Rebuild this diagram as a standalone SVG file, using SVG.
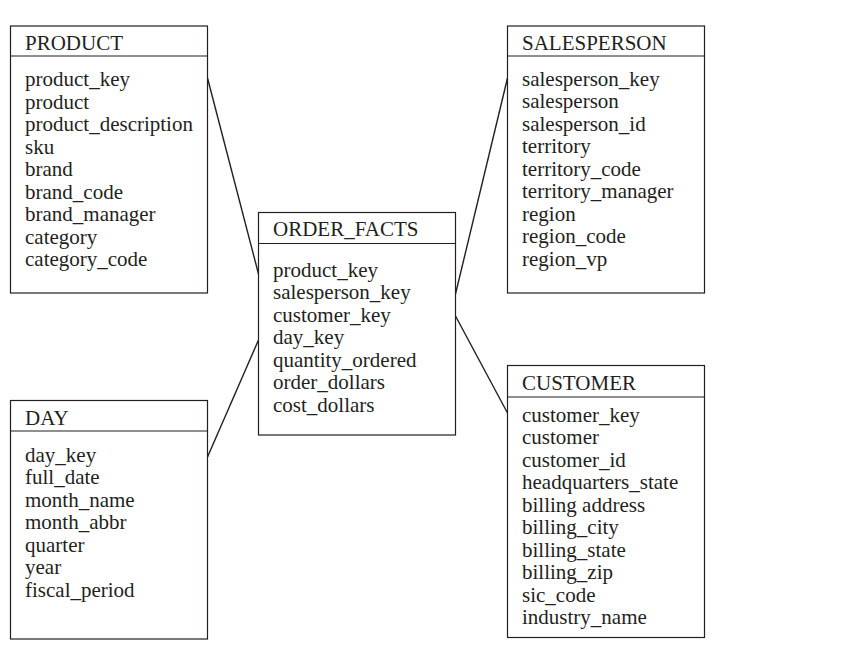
<svg xmlns="http://www.w3.org/2000/svg" width="854" height="645" viewBox="0 0 854 645">
<style>
  .box{fill:#fff;stroke:#231f20;stroke-width:1.2}
  .div{stroke:#231f20;stroke-width:1.2}
  text{font-family:"Liberation Serif","Times New Roman",serif;font-size:21px;fill:#231f20}
  .conn line{stroke:#231f20;stroke-width:1.4}
</style>
<rect width="854" height="645" fill="#fff"/>
<g class="conn" id="connectors">
  <line x1="207.5" y1="78" x2="258.5" y2="274"/>
  <line x1="207.5" y1="457" x2="258.5" y2="340"/>
  <line x1="455.5" y1="294" x2="507.5" y2="78"/>
  <line x1="455.5" y1="316" x2="507.5" y2="413"/>
</g>
<g id="product">
  <rect class="box" x="10.5" y="26" width="197" height="267"/>
  <line class="div" x1="10.5" y1="56" x2="207.5" y2="56"/>
  <text x="25" y="50">PRODUCT</text>
  <text x="25" y="86">product_key</text>
  <text x="25" y="108.5">product</text>
  <text x="25" y="131">product_description</text>
  <text x="25" y="153.5">sku</text>
  <text x="25" y="176">brand</text>
  <text x="25" y="198.5">brand_code</text>
  <text x="25" y="221">brand_manager</text>
  <text x="25" y="243.5">category</text>
  <text x="25" y="266">category_code</text>
</g>
<g id="order_facts">
  <rect class="box" x="258.5" y="212.5" width="197" height="222.5"/>
  <line class="div" x1="258.5" y1="243.5" x2="455.5" y2="243.5"/>
  <text x="273" y="236">ORDER_FACTS</text>
  <text x="273" y="276.5">product_key</text>
  <text x="273" y="299">salesperson_key</text>
  <text x="273" y="321.5">customer_key</text>
  <text x="273" y="344">day_key</text>
  <text x="273" y="366.5">quantity_ordered</text>
  <text x="273" y="389">order_dollars</text>
  <text x="273" y="411.5">cost_dollars</text>
</g>
<g id="salesperson">
  <rect class="box" x="507.5" y="26" width="197" height="267"/>
  <line class="div" x1="507.5" y1="56" x2="704.5" y2="56"/>
  <text x="522" y="50">SALESPERSON</text>
  <text x="522" y="85.5">salesperson_key</text>
  <text x="522" y="108">salesperson</text>
  <text x="522" y="130.5">salesperson_id</text>
  <text x="522" y="153">territory</text>
  <text x="522" y="175.5">territory_code</text>
  <text x="522" y="198">territory_manager</text>
  <text x="522" y="220.5">region</text>
  <text x="522" y="243">region_code</text>
  <text x="522" y="265.5">region_vp</text>
</g>
<g id="customer">
  <rect class="box" x="507.5" y="365.5" width="197" height="272"/>
  <line class="div" x1="507.5" y1="397" x2="704.5" y2="397"/>
  <text x="522" y="389.5">CUSTOMER</text>
  <text x="522" y="421.5">customer_key</text>
  <text x="522" y="444">customer</text>
  <text x="522" y="466.5">customer_id</text>
  <text x="522" y="489">headquarters_state</text>
  <text x="522" y="511.5">billing address</text>
  <text x="522" y="534">billing_city</text>
  <text x="522" y="556.5">billing_state</text>
  <text x="522" y="579">billing_zip</text>
  <text x="522" y="601.5">sic_code</text>
  <text x="522" y="624">industry_name</text>
</g>
<g id="day">
  <rect class="box" x="10.5" y="400.5" width="197" height="238.5"/>
  <line class="div" x1="10.5" y1="431" x2="207.5" y2="431"/>
  <text x="25" y="424.5">DAY</text>
  <text x="25" y="461.5">day_key</text>
  <text x="25" y="484">full_date</text>
  <text x="25" y="506.5">month_name</text>
  <text x="25" y="529">month_abbr</text>
  <text x="25" y="551.5">quarter</text>
  <text x="25" y="574">year</text>
  <text x="25" y="596.5">fiscal_period</text>
</g>
</svg>
